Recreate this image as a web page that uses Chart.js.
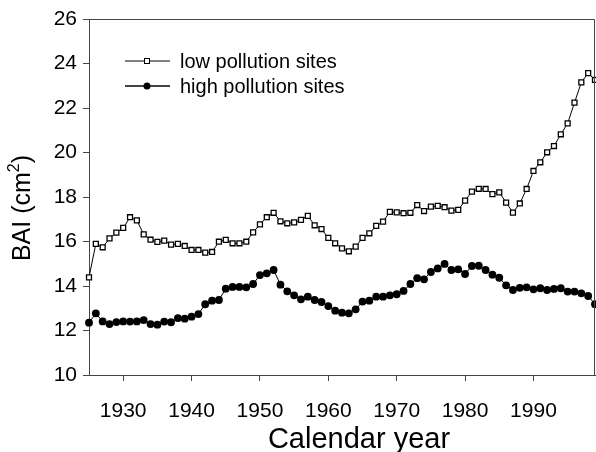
<!DOCTYPE html>
<html>
<head>
<meta charset="utf-8">
<script src="https://cdn.jsdelivr.net/npm/chart.js@4.4.1/dist/chart.umd.min.js"></script>
<style>
  html, body { margin: 0; padding: 0; background: #fff; }
  #wrap { width: 596px; height: 452px; }
</style>
</head>
<body>
<div id="wrap"><canvas id="bai" width="596" height="452"></canvas></div>
<script>
// calendar years 1925..1999
const years = [];
for (let y = 1925; y <= 1999; y++) years.push(y);

const lowSites = [
  14.39, 15.89, 15.74, 16.14, 16.40, 16.61, 17.09, 16.95, 16.32, 16.08,
  15.98, 16.04, 15.86, 15.89, 15.80, 15.62, 15.62, 15.50, 15.53, 15.99,
  16.07, 15.92, 15.92, 15.99, 16.41, 16.77, 17.09, 17.29, 16.91, 16.82,
  16.86, 16.97, 17.15, 16.73, 16.56, 16.16, 15.92, 15.69, 15.56, 15.77,
  16.16, 16.37, 16.70, 16.89, 17.33, 17.31, 17.27, 17.29, 17.64, 17.37,
  17.57, 17.60, 17.54, 17.39, 17.42, 17.84, 18.24, 18.37, 18.36, 18.13,
  18.21, 17.75, 17.30, 17.71, 18.36, 19.17, 19.56, 20.01, 20.29, 20.82,
  21.31, 22.24, 23.15, 23.57, 23.26
];

const highSites = [
  12.35, 12.77, 12.41, 12.29, 12.38, 12.41, 12.40, 12.41, 12.47, 12.29,
  12.26, 12.40, 12.37, 12.56, 12.53, 12.62, 12.74, 13.18, 13.34, 13.37,
  13.88, 13.96, 13.96, 13.94, 14.09, 14.49, 14.57, 14.72, 14.06, 13.76,
  13.58, 13.40, 13.52, 13.37, 13.28, 13.10, 12.89, 12.80, 12.77, 12.95,
  13.30, 13.34, 13.52, 13.52, 13.58, 13.63, 13.78, 14.09, 14.35, 14.30,
  14.63, 14.79, 14.99, 14.72, 14.75, 14.54, 14.90, 14.91, 14.72, 14.51,
  14.37, 14.03, 13.82, 13.92, 13.94, 13.85, 13.90, 13.82, 13.87, 13.90,
  13.75, 13.75, 13.67, 13.55, 13.18
];

const xTicks = [1930, 1940, 1950, 1960, 1970, 1980, 1990];
const seriesNames = ['low pollution sites', 'high pollution sites'];

const FONT = "'Liberation Sans', Arial, sans-serif";
const axisColor = '#444';

function toPoints(vals) {
  return vals.map((v, i) => ({ x: years[i], y: v }));
}

// box around the plot, axis titles and the legend inside the plot
const framePlugin = {
  id: 'frame',
  afterDraw(chart) {
    const c = chart.ctx, a = chart.chartArea;
    c.save();
    c.strokeStyle = axisColor;
    c.lineWidth = 1;
    c.beginPath();
    c.moveTo(a.left, a.top + 0.5);
    c.lineTo(a.right - 0.5, a.top + 0.5);
    c.lineTo(a.right - 0.5, a.bottom);
    c.stroke();

    // x title
    c.fillStyle = '#000';
    c.font = '29px ' + FONT;
    c.textAlign = 'center';
    c.textBaseline = 'middle';
    c.fillText('Calendar year', 359, 440);

    // y title with superscript 2
    c.save();
    c.translate(23, 208);
    c.rotate(-Math.PI / 2);
    c.textAlign = 'left';
    c.textBaseline = 'middle';
    const big = '25px ' + FONT, small = '16px ' + FONT;
    c.font = big;
    const w1 = c.measureText('BAI (cm').width;
    const w3 = c.measureText(')').width;
    c.font = small;
    const w2 = c.measureText('2').width;
    let x0 = -(w1 + w2 + w3) / 2;
    c.font = big;
    c.fillText('BAI (cm', x0, 0);
    c.font = small;
    c.fillText('2', x0 + w1, -8);
    c.font = big;
    c.fillText(')', x0 + w1 + w2, 0);
    c.restore();

    // legend
    const rows = [
      { y: 61, line: '#000', lw: 1, style: 'rect' },
      { y: 86, line: '#444', lw: 2, style: 'circle' }
    ];
    c.font = '20px ' + FONT;
    c.textAlign = 'left';
    c.textBaseline = 'middle';
    rows.forEach((r, i) => {
      c.strokeStyle = r.line;
      c.lineWidth = r.lw;
      c.beginPath();
      c.moveTo(125, r.y);
      c.lineTo(170, r.y);
      c.stroke();
      if (r.style === 'rect') {
        c.fillStyle = '#fff';
        c.strokeStyle = '#000';
        c.lineWidth = 1;
        c.fillRect(144.5, r.y - 2.5, 5, 5);
        c.strokeRect(144.5, r.y - 2.5, 5, 5);
      } else {
        c.fillStyle = '#000';
        c.beginPath();
        c.arc(147, r.y, 3.5, 0, Math.PI * 2);
        c.fill();
      }
      c.fillStyle = '#000';
      c.fillText(seriesNames[i], 180, r.y + 1);
    });
    c.restore();
  }
};

new Chart(document.getElementById('bai'), {
  type: 'line',
  data: {
    datasets: [
      {
        label: seriesNames[0],
        data: toPoints(lowSites),
        borderColor: '#000',
        borderWidth: 1,
        pointStyle: 'rect',
        pointRadius: 3.5,
        pointBackgroundColor: '#fff',
        pointBorderColor: '#000',
        pointBorderWidth: 1.3,
        tension: 0,
        clip: false
      },
      {
        label: seriesNames[1],
        data: toPoints(highSites),
        borderColor: '#000',
        borderWidth: 1,
        pointStyle: 'circle',
        pointRadius: 3.9,
        pointBackgroundColor: '#000',
        pointBorderColor: '#000',
        pointBorderWidth: 0,
        tension: 0,
        clip: false
      }
    ]
  },
  options: {
    responsive: false,
    animation: false,
    layout: { autoPadding: false, padding: { left: 0, right: 1, top: 19, bottom: 0 } },
    plugins: {
      legend: { display: false },
      tooltip: { enabled: false }
    },
    scales: {
      x: {
        type: 'linear',
        min: 1925,
        max: 1999,
        afterBuildTicks(scale) {
          scale.ticks = xTicks.map(v => ({ value: v }));
        },
        afterFit(scale) { scale.height = 77; },
        grid: {
          drawOnChartArea: false,
          drawTicks: true,
          tickLength: 6,
          color: axisColor
        },
        border: { color: axisColor, width: 1 },
        ticks: {
          color: '#000',
          font: { family: FONT, size: 21 },
          padding: 18,
          maxRotation: 0,
          callback: v => String(v)
        }
      },
      y: {
        min: 10,
        max: 26,
        afterFit(scale) { scale.width = 89; },
        grid: {
          drawOnChartArea: false,
          drawTicks: true,
          tickLength: 6,
          color: axisColor
        },
        border: { color: axisColor, width: 1 },
        ticks: {
          stepSize: 2,
          color: '#000',
          font: { family: FONT, size: 21 },
          padding: 6
        }
      }
    }
  },
  plugins: [framePlugin]
});
</script>
</body>
</html>
